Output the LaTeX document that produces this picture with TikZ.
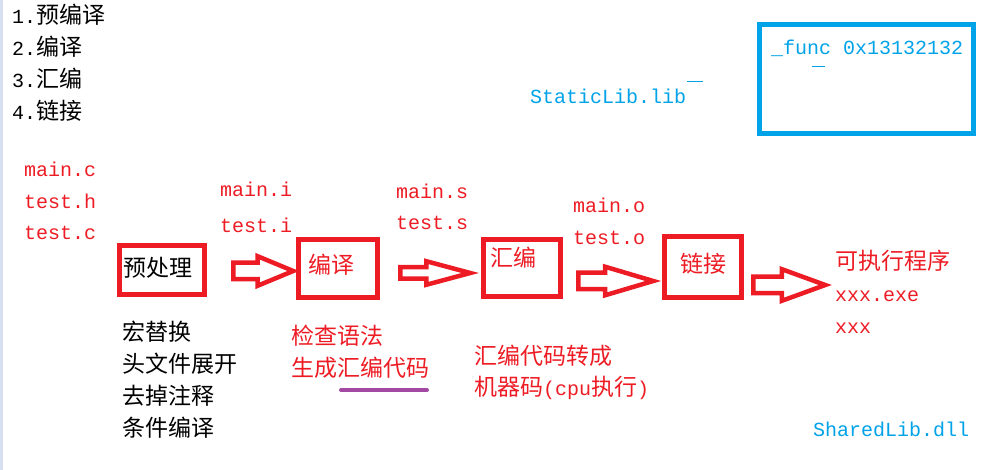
\documentclass[tikz,border=0pt]{standalone}
\usepackage{fontspec}
\setmainfont{Liberation Mono}
\newfontfamily\cjkfont{Noto Sans CJK SC}
\usetikzlibrary{shapes.arrows}
\definecolor{paintred}{HTML}{ED1C24}
\definecolor{paintblue}{HTML}{00A2E8}
\definecolor{paintpurple}{HTML}{A349A4}
\definecolor{sidebar}{HTML}{D6E0F0}
\newcommand{\zh}[1]{{\cjkfont\fontsize{23}{32}\selectfont #1}}
\tikzset{
    txt/.style={anchor=base west, inner sep=0pt, font=\fontsize{20}{32}\selectfont},
    redtxt/.style={txt, text=paintred},
    bluetxt/.style={txt, text=paintblue},
    stagebox/.style={draw=paintred, line width=5pt, inner sep=0pt},
    blockarrow/.style n args={4}{shape=single arrow, draw=paintred, line width=4.5pt,
        inner xsep=0pt, inner ysep=#1, single arrow head extend=#2,
        single arrow tip angle=#3, minimum height=#4, anchor=tail},
}

\begin{document}
\begin{tikzpicture}[x=1pt, y=-1pt]
\useasboundingbox (0,0) rectangle (1005,470);
\fill[sidebar] (0,0) rectangle (3,470);

% steps
\foreach \n/\t [count=\i] in {1/预编译,2/编译,3/汇编,4/链接}
    \node[txt] (step\i) at (12,{24+31.7*(\i-1)}) {\n.\zh{\t}};

% static lib
\node[bluetxt] (static) at (530,104) {StaticLib.lib};
\draw[paintblue, line width=1pt] (687,82) -- (703,82);
\node[draw=paintblue, line width=5pt, minimum width=214pt, minimum height=109pt] (symtab) at (866.5,79) {};
\node[bluetxt] (func) at (771,55) {\_func 0x13132132};
\draw[paintblue, line width=1pt] (812,67) -- (825,67);

% files
\foreach \t [count=\i] in {main.c,test.h,test.c}
    \node[redtxt] (src\i) at (24,{177+31.5*(\i-1)}) {\t};
\node[redtxt] (maini) at (220,197) {main.i};
\node[redtxt] (testi) at (220,233) {test.i};
\node[redtxt] (mains) at (396,199) {main.s};
\node[redtxt] (tests) at (396,230) {test.s};
\node[redtxt] (maino) at (573,213) {main.o};
\node[redtxt] (testo) at (573,245) {test.o};

% stages
\node[stagebox, minimum width=85pt, minimum height=49pt] (pre) at (162,270) {};
\node[txt] (prelbl) at (123,277) {\zh{预处理}};
\node[stagebox, minimum width=79pt, minimum height=58pt] (comp) at (338,268.5) {};
\node[redtxt] (complbl) at (308,274) {\zh{编译}};
\node[stagebox, minimum width=77pt, minimum height=57pt] (asm) at (522,268) {};
\node[redtxt] (asmlbl) at (490,267) {\zh{汇编}};
\node[stagebox, minimum width=77pt, minimum height=61pt] (link) at (703,267) {};
\node[redtxt] (linklbl) at (680,273) {\zh{链接}};

% arrows
\node[blockarrow={6pt}{6.5pt}{45}{60pt}] (arr1) at (231,271) {};
\node[blockarrow={3.5pt}{6pt}{30}{70pt}] (arr2) at (398,273) {};
\node[blockarrow={6pt}{6pt}{33}{75pt}] (arr3) at (576,281) {};
\node[blockarrow={6pt}{7.5pt}{40}{72pt}] (arr4) at (751,285) {};

% output
\node[redtxt] (exe) at (835,270) {\zh{可执行程序}};
\node[redtxt] (exe1) at (835,302) {xxx.exe};
\node[redtxt] (exe2) at (835,334) {xxx};

% notes
\foreach \t [count=\i] in {宏替换,头文件展开,去掉注释,条件编译}
    \node[txt] (prenote\i) at (122,{341+32*(\i-1)}) {\zh{\t}};
\node[redtxt] (compnote1) at (291,345) {\zh{检查语法}};
\node[redtxt] (compnote2) at (291,377) {\zh{生成汇编代码}};
\draw[paintpurple, line width=4pt, line cap=round] (341,390) -- (427,390);
\node[redtxt] (asmnote1) at (474,365) {\zh{汇编代码转成}};
\node[redtxt] (asmnote2) at (474,396) {\zh{机器码}(cpu\zh{执行})};

\node[bluetxt] (shared) at (813,437) {SharedLib.dll};
\end{tikzpicture}
\end{document}
